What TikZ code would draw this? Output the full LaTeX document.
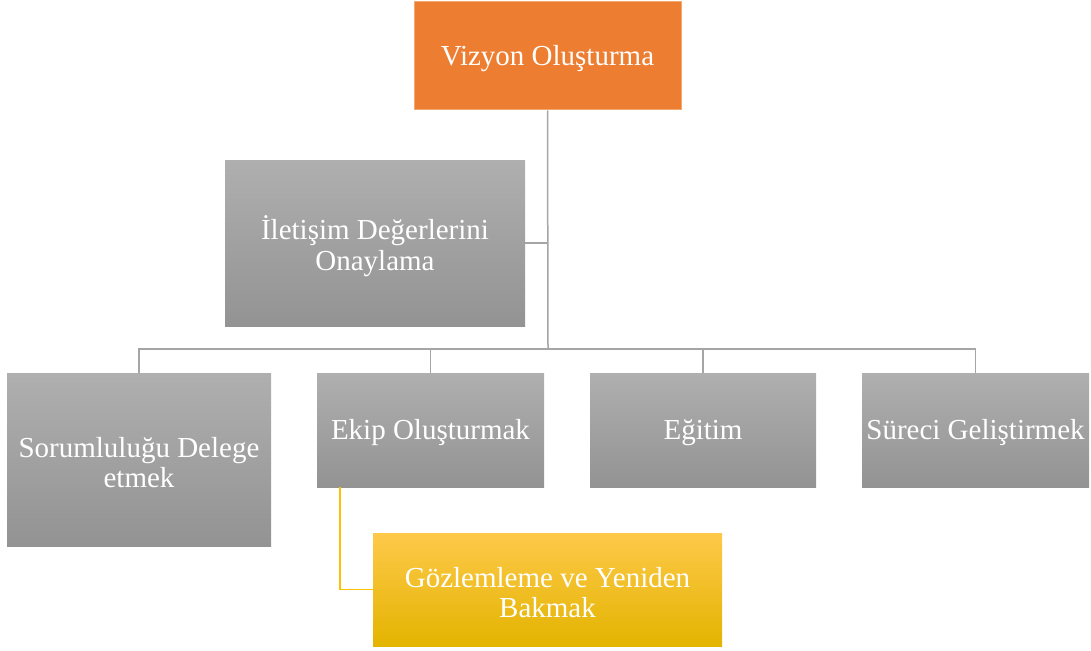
\documentclass[tikz,border=0pt]{standalone}
\usepackage{fontspec}
\setmainfont{Liberation Serif}
\usetikzlibrary{calc}
\definecolor{vizorange}{HTML}{ED7D31}
\definecolor{vizedge}{HTML}{F3A870}
\definecolor{grtop}{HTML}{AFAFAF}
\definecolor{grbot}{HTML}{939393}
\definecolor{gdtop}{HTML}{FEC94A}
\definecolor{gdmid}{HTML}{FFC700}
\definecolor{gdbot}{HTML}{E3B400}
\definecolor{lineg}{HTML}{A5A5A5}
\definecolor{liney}{HTML}{FFC000}
\tikzset{
  box/.style={inner sep=0pt},
  graybox/.style={box, top color=grtop, bottom color=grbot},
  goldbox/.style={box, top color=gdtop, middle color=gdmid, bottom color=gdbot},
  orangebox/.style={box, fill=vizorange, draw=vizedge, line width=1pt},
  txt/.style={inner sep=0pt, align=center, text=white, yshift=-3pt,
    font=\fontsize{29}{30.5}\selectfont},
  conn/.style={draw=lineg, line width=1.5pt},
  yconn/.style={draw=liney, line width=1.5pt}
}
\begin{document}
\begin{tikzpicture}[x=1pt, y=-1pt]
\useasboundingbox (0,0) rectangle (1091,650);

% boxes
\node[orangebox, minimum width=267pt, minimum height=108pt] (viz) at (547.5,56) {};
\node[graybox, minimum width=300pt, minimum height=166pt] (ilet) at (375,243) {};
\node[graybox, minimum width=264pt, minimum height=173pt] (sor) at (139,459.5) {};
\node[graybox, minimum width=227pt, minimum height=114pt] (ekip) at (430.5,430) {};
\node[graybox, minimum width=226pt, minimum height=114pt] (egi) at (703,430) {};
\node[graybox, minimum width=227pt, minimum height=114pt] (sur) at (975.5,430) {};
\node[goldbox, minimum width=349pt, minimum height=113pt] (goz) at (547.5,589.5) {};

% box texts
\node[txt] (vizt) at (viz) {Vizyon Oluşturma};
\node[txt] (ilett) at (ilet) {İletişim Değerlerini\\Onaylama};
\node[txt] (sort) at (sor) {Sorumluluğu Delege\\etmek};
\node[txt] (ekipt) at (ekip) {Ekip Oluşturmak};
\node[txt] (egit) at (egi) {Eğitim};
\node[txt] (surt) at (sur) {Süreci Geliştirmek};
\node[txt] (gozt) at (goz) {Gözlemleme ve Yeniden\\Bakmak};

% connectors
\coordinate (hub) at (548,349);
\draw[conn] (viz.south) -- (hub);
\draw[conn] (ilet.east) -- (ilet.east -| viz.south);
\draw[conn] (hub) -| (sor.north);
\draw[conn] (hub) -| (ekip.north);
\draw[conn] (hub) -| (egi.north);
\draw[conn] (hub) -| (sur.north);
\coordinate (ekfoot) at ($(ekip.south west)+(23,0)$);
\draw[yconn] (ekfoot) |- (goz.west);
\end{tikzpicture}
\end{document}
